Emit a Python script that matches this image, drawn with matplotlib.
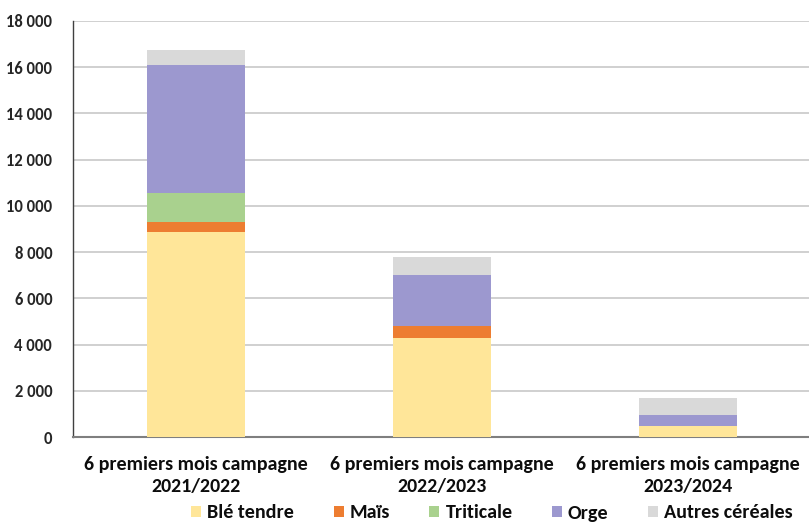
import matplotlib
matplotlib.use("Agg")
import matplotlib.pyplot as plt
from matplotlib.patches import Patch

plt.rcParams['font.family'] = ['Carlito', 'Liberation Sans']

categories = ["6 premiers mois campagne\n2021/2022",
              "6 premiers mois campagne\n2022/2023",
              "6 premiers mois campagne\n2023/2024"]
series_names = ["Blé tendre", "Maïs", "Triticale", "Orge", "Autres céréales"]
ble_tendre = [8890, 4300, 460]
mais = [430, 505, 0]
triticale = [1255, 0, 0]
orge = [5525, 2210, 490]
autres = [650, 790, 725]
colors = ["#FFE699", "#ED7D31", "#A9D18E", "#9C98CF", "#D9D9D9"]
yticks = [0, 2000, 4000, 6000, 8000, 10000, 12000, 14000, 16000, 18000]

fig = plt.figure(figsize=(8.09, 5.24), dpi=100)
ax = fig.add_axes([73 / 809, 87 / 524, (811 - 73) / 809, 416 / 524])

x = list(range(len(categories)))
bottom = [0, 0, 0]
for name, vals, col in zip(series_names, [ble_tendre, mais, triticale, orge, autres], colors):
    ax.bar(x, vals, width=0.40, bottom=bottom, color=col, label=name, zorder=3)
    bottom = [b + v for b, v in zip(bottom, vals)]

ax.set_xlim(-0.5, 2.5)
ax.set_ylim(0, 18000)
ax.set_yticks(yticks)
ax.set_yticklabels([f"{v:,}".replace(",", " ") for v in yticks],
                   fontsize=12, fontweight='bold', color='#262626')
ax.tick_params(axis='y', length=0, pad=15)
ax.set_xticks(x)
ax.set_xticklabels(categories, fontsize=14.4, fontweight='bold', linespacing=1.35,
                   color='#0D0D0D')
ax.tick_params(axis='x', length=0, pad=14)
ax.yaxis.grid(True, color="#C8C8C8", linewidth=1.2, zorder=0)
for s in ['top', 'right']:
    ax.spines[s].set_visible(False)
ax.spines['left'].set_color('#404040')
ax.spines['left'].set_linewidth(1.0)
ax.spines['bottom'].set_color('#7F7F7F')
ax.spines['bottom'].set_linewidth(1.5)

handles = [Patch(facecolor=c, label=n) for n, c in zip(series_names, colors)]
fig.legend(handles=handles, loc='center', bbox_to_anchor=(492 / 809, 1 - 513 / 524),
           ncol=5, frameon=False, prop={'weight': 'bold', 'size': 14.5},
           handlelength=0.5, handleheight=0.5, handletextpad=0.3, columnspacing=1.95,
           borderpad=0, labelcolor='#0D0D0D')

fig.savefig("out.png", dpi=100)
